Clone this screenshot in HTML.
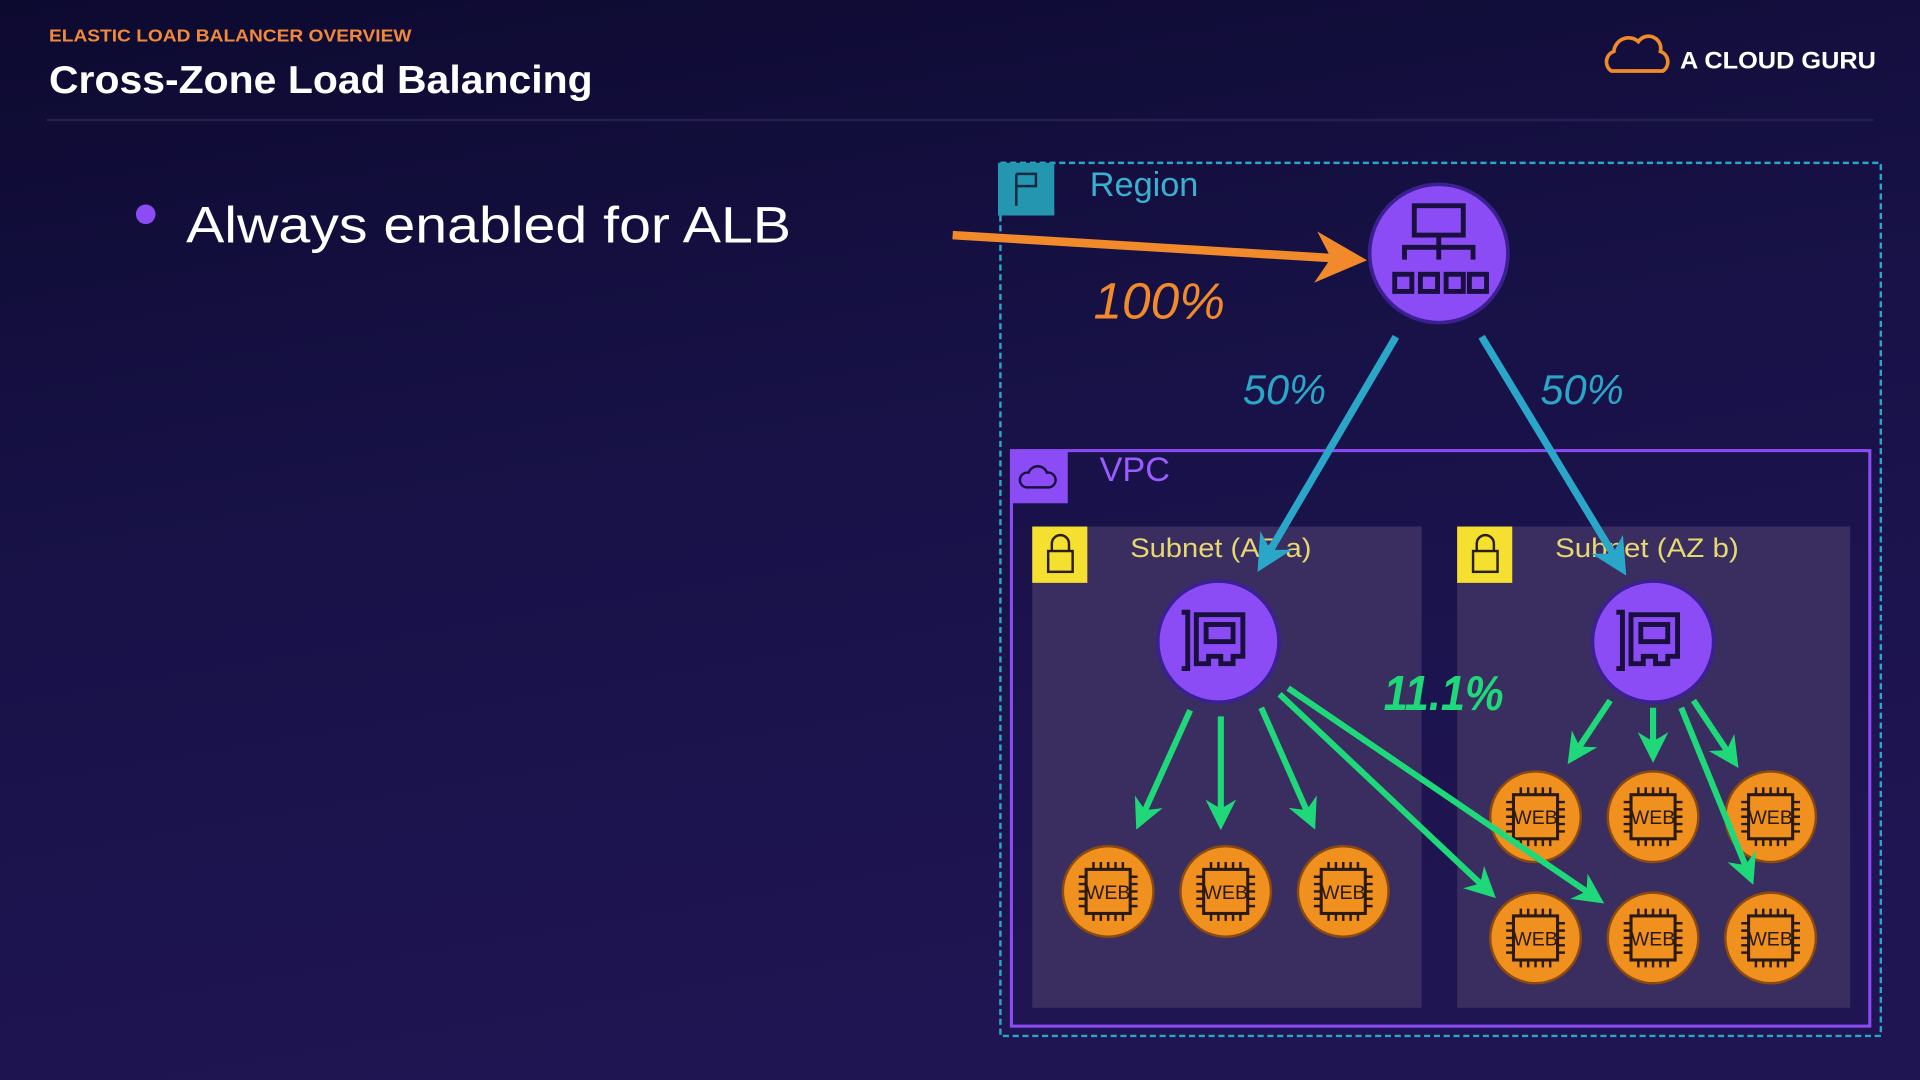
<!DOCTYPE html>
<html><head><meta charset="utf-8"><style>
html,body{margin:0;padding:0;width:1920px;height:1080px;overflow:hidden;background:#140f42}
svg{display:block}
text{font-family:"Liberation Sans",sans-serif}
</style></head><body>
<svg width="1920" height="1080" viewBox="0 0 1568 882" preserveAspectRatio="none" xmlns="http://www.w3.org/2000/svg">
<defs>
<linearGradient id="bg" x1="0" y1="0" x2="0.3" y2="1">
<stop offset="0" stop-color="#0d0a30"/><stop offset="0.5" stop-color="#181248"/><stop offset="1" stop-color="#1f1552"/>
</linearGradient>
<marker id="mg" viewBox="0 0 10 10" refX="8" refY="5" markerWidth="5" markerHeight="5" orient="auto" markerUnits="strokeWidth"><path d="M0,0 L10,5 L0,10 L3,5 z" fill="#1ed87a"/></marker>
<marker id="mc" viewBox="0 0 10 10" refX="8" refY="5" markerWidth="5" markerHeight="5" orient="auto" markerUnits="strokeWidth"><path d="M0,0 L10,5 L0,10 L3,5 z" fill="#2aa6c8"/></marker>
<marker id="mo" viewBox="0 0 10 10" refX="8" refY="5" markerWidth="6" markerHeight="6" orient="auto" markerUnits="strokeWidth"><path d="M0,0 L10,5 L0,10 L3,5 z" fill="#f08a2a"/></marker>
<g id="web">
<circle r="38" fill="#8a4a10"/><circle r="36" fill="#f0901e"/>
<rect x="-18" y="-18" width="36" height="36" fill="none" stroke="#2a1a10" stroke-width="2.5"/>
<path d="M-12,-18v-6M-6,-18v-6M0,-18v-6M6,-18v-6M12,-18v-6M-12,18v6M-6,18v6M0,18v6M6,18v6M12,18v6M-18,-12h-6M-18,-6h-6M-18,0h-6M-18,6h-6M-18,12h-6M18,-12h6M18,-6h6M18,0h6M18,6h6M18,12h6" stroke="#2a1a10" stroke-width="2"/>
<text x="0" y="6" text-anchor="middle" font-size="16" fill="#2a1a10">WEB</text>
</g>
<g id="eni">
<circle r="51" fill="#3a2090"/><circle r="48" fill="#8c4cf5"/>
<path d="M-30,-24h5v46h-5" fill="none" stroke="#1a1040" stroke-width="4"/>
<path d="M-18,-22h38v34h-8v6h-10v-6h-10v6h-10z" fill="none" stroke="#1a1040" stroke-width="4"/>
<rect x="-10" y="-14" width="22" height="14" fill="none" stroke="#1a1040" stroke-width="4"/>
</g>
</defs>
<rect width="1568" height="882" fill="url(#bg)"/>
<text x="40" y="34" font-size="14" font-weight="bold" fill="#f08a3a" textLength="296" lengthAdjust="spacingAndGlyphs">ELASTIC LOAD BALANCER OVERVIEW</text>
<text x="40" y="76" font-size="32" font-weight="bold" fill="#fff" textLength="444" lengthAdjust="spacingAndGlyphs">Cross-Zone Load Balancing</text>
<path d="M1316,58 a9,9 0 0 1 2,-16 a12,12 0 0 1 20,-8 a10,10 0 0 1 18,8 a9,9 0 0 1 2,16z" fill="none" stroke="#f08a2a" stroke-width="3"/>
<text x="1372" y="56" font-size="20" font-weight="bold" fill="#fff" textLength="160" lengthAdjust="spacingAndGlyphs">A CLOUD GURU</text>
<line x1="38" y1="98" x2="1530" y2="98" stroke="#26204e" stroke-width="2"/>
<circle cx="119" cy="175" r="8" fill="#8c4cf5"/>
<text x="152" y="198" font-size="42" fill="#fff" textLength="494" lengthAdjust="spacingAndGlyphs">Always enabled for ALB</text>

<rect x="817" y="133" width="719" height="713" fill="none" stroke="#2aa6c8" stroke-width="2" stroke-dasharray="5,3"/>
<rect x="815" y="133" width="46" height="43" fill="#2596b0"/>
<path d="M830,168v-26M830,142h16v10h-16" fill="none" stroke="#0d2a40" stroke-width="2"/>
<text x="890" y="160" font-size="28" fill="#3ab0d0">Region</text>

<rect x="826" y="368" width="701" height="470" fill="none" stroke="#8c4cf5" stroke-width="2.5"/>
<rect x="826" y="368" width="46" height="43" fill="#8c4cf5"/>
<path d="M838,398 a6,6 0 0 1 2,-12 a8,8 0 0 1 15,0 a6,6 0 0 1 2,12z" fill="none" stroke="#1a1040" stroke-width="2"/>
<text x="898" y="393" font-size="28" fill="#9a5cff">VPC</text>

<rect x="843" y="430" width="318" height="393" fill="#3a2d60"/>
<rect x="1190" y="430" width="321" height="393" fill="#3a2d60"/>
<rect x="843" y="430" width="45" height="46" fill="#f5e030"/>
<rect x="1190" y="430" width="45" height="46" fill="#f5e030"/>
<g fill="none" stroke="#2a2010" stroke-width="2">
<rect x="856" y="450" width="20" height="17"/><path d="M859,450v-6a7,7 0 0 1 14,0v6"/>
<rect x="1203" y="450" width="20" height="17"/><path d="M1206,450v-6a7,7 0 0 1 14,0v6"/>
</g>
<text x="923" y="455" font-size="22" fill="#e8d870" textLength="148" lengthAdjust="spacingAndGlyphs">Subnet (AZ a)</text>
<text x="1270" y="455" font-size="22" fill="#e8d870" textLength="150" lengthAdjust="spacingAndGlyphs">Subnet (AZ b)</text>

<line x1="778" y1="192" x2="1108" y2="212" stroke="#f08a2a" stroke-width="7" marker-end="url(#mo)"/>
<text x="893" y="260" font-size="42" font-style="italic" fill="#f08a2a">100%</text>

<circle cx="1175" cy="207" r="58" fill="#3a2090"/><circle cx="1175" cy="207" r="55" fill="#8c4cf5"/>
<g fill="none" stroke="#1a1040" stroke-width="4">
<rect x="1155" y="168" width="40" height="24"/><path d="M1175,192v10M1147,212v-10h56v10M1175,202v10"/>
<rect x="1139" y="224" width="14" height="14"/><rect x="1160" y="224" width="14" height="14"/><rect x="1181" y="224" width="14" height="14"/><rect x="1200" y="224" width="14" height="14"/>
</g>

<g stroke="#2aa6c8" stroke-width="6" marker-end="url(#mc)">
<line x1="1140" y1="275" x2="1030" y2="462"/>
<line x1="1210" y1="275" x2="1325" y2="465"/>
</g>
<text x="1015" y="330" font-size="34" font-style="italic" fill="#2aa6c8">50%</text>
<text x="1258" y="330" font-size="34" font-style="italic" fill="#2aa6c8">50%</text>

<use href="#eni" x="995" y="524"/>
<use href="#eni" x="1350" y="524"/>

<use href="#web" x="905" y="728"/><use href="#web" x="1001" y="728"/><use href="#web" x="1097" y="728"/>
<use href="#web" x="1254" y="667"/><use href="#web" x="1350" y="667"/><use href="#web" x="1446" y="667"/>
<use href="#web" x="1254" y="766"/><use href="#web" x="1350" y="766"/><use href="#web" x="1446" y="766"/>

<g stroke="#1ed87a" stroke-width="5" marker-end="url(#mg)">
<line x1="972" y1="580" x2="930" y2="673"/>
<line x1="997" y1="585" x2="997" y2="673"/>
<line x1="1030" y1="578" x2="1072" y2="673"/>
<line x1="1045" y1="567" x2="1218" y2="730"/>
<line x1="1052" y1="562" x2="1306" y2="735"/>
<line x1="1315" y1="572" x2="1283" y2="620"/>
<line x1="1350" y1="578" x2="1350" y2="618"/>
<line x1="1383" y1="572" x2="1417" y2="623"/>
<line x1="1373" y1="578" x2="1430" y2="718"/>
</g>
<text x="1130" y="580" font-size="40" font-weight="bold" font-style="italic" fill="#1ed87a" textLength="98" lengthAdjust="spacingAndGlyphs">11.1%</text>
</svg>
</body></html>
